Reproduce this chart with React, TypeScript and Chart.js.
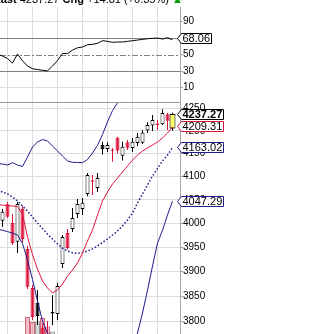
import { useEffect, useRef } from "react";
import { Chart, registerables } from "chart.js";

Chart.register(...registerables);

// Session 0 is the day before the first visible candle.
const sessions = [0, 1, 2, 3, 4, 5, 6, 7, 8, 9, 10, 11, 12, 13, 14, 15, 16, 17, 18, 19, 20, 21, 22, 23, 24, 25, 26, 27, 28, 29, 30, 31, 32, 33, 34, 35];
const weekStartSessions = [2, 7, 12, 17, 22, 27, 32];

const opens = [4030, 4006, 4041, 4001, 3962, 4030.7, 3946.9, 3866.6, 3836.8, 3787, 3772, 3815, 3814, 3915.7, 3980.1, 3988.5, 4020.2, 4030.7, 4062.7, 4092, 4075.5, 4168.8, 4160, 4156, 4184.8, 4145.4, 4175, 4162, 4173, 4174, 4201, 4212, 4216, 4214.5, 4237, 4205];
const highs = [4040, 4030.7, 4045.6, 4020, 4046, 4037, 3953, 3872.9, 3862.5, 3795, 3800, 3852, 3877, 3976, 3988.5, 4032.8, 4052, 4054, 4107.8, 4103.5, 4107.8, 4176, 4175, 4162, 4187, 4176, 4179.8, 4184, 4195, 4202, 4219, 4235, 4224, 4248, 4239.6, 4240];
const lows = [4005, 3992.7, 4011.7, 3955, 3938.5, 3960.5, 3864.5, 3802, 3792, 3752, 3745, 3792, 3802, 3907.5, 3947, 3982, 4011.7, 4018, 4058, 4060.6, 4067, 4148, 4153.5, 4132, 4150, 4135, 4157.8, 4153.5, 4166.6, 4171, 4195, 4199.7, 4202, 4213, 4202, 4200];
const closes = [4015, 4025, 4014.4, 3959.2, 4041.3, 3967.6, 3869.2, 3808, 3810, 3765, 3755, 3818, 3870.6, 3971.8, 3948.8, 4011.7, 4041.3, 4044.1, 4103.5, 4089, 4097, 4160, 4168.8, 4159, 4157, 4165, 4163, 4176, 4187, 4196.5, 4213, 4224, 4213, 4239.6, 4222.46, 4237.27];
// volume in billions of shares
const volumes = [2.3, 2.4, 2.5, 2.6, 2.8, 2.7, 4.7, 4.2, 4.25, 4.6, 3.75, 3.25, 2.9, 2.8, 2.5, 2.4, 2.3, 2.2, 2.6, 2.3, 2.4, 2.8, 2.5, 2.4, 2.5, 2.3, 2.2, 2.1, 2.3, 2.2, 2.4, 2.3, 2.0, 2.2, 2.1, 2.2];

const ema10 = [4040, 4039, 4038, 4037, 4036, 4020, 3972, 3935, 3905.5, 3881, 3866.6, 3856.4, 3862.5, 3874.7, 3891, 3903.4, 3917.8, 3938.5, 3963.4, 3986.4, 4018, 4047.8, 4067, 4084.1, 4097, 4110, 4123, 4136, 4146.9, 4155.7, 4162.3, 4168.8, 4175.4, 4184.2, 4195.2, 4209.31];
const bbUpper = [4128, 4127.3, 4125.2, 4130.2, 4125.2, 4121.9, 4142.6, 4164.4, 4175.4, 4180.9, 4177.6, 4166.6, 4155.7, 4144.7, 4133.9, 4131, 4130.7, 4130.2, 4137, 4151.3, 4168, 4192, 4220, 4245, 4262, 4275, 4288, 4300, 4311, 4309, 4302, 4291, 4284, 4281, 4279, 4278.75];
const bbMiddle = [4070, 4067, 4062.7, 4056.3, 4047.8, 4037.1, 4026.5, 4013.8, 4001, 3989.6, 3978, 3967.6, 3957.2, 3948.8, 3942.6, 3939, 3937.8, 3939.5, 3942.6, 3946.9, 3953, 3960.3, 3967.6, 3975.9, 3984.3, 3994.8, 4007.5, 4022.3, 4043.5, 4062.7, 4082, 4101.3, 4117.6, 4133.9, 4146.9, 4163.02];
const bbLower = [3988, 3986, 3983, 3980, 3976, 3958, 3924, 3884, 3840, 3800, 3775, 3769, 3759, 3753, 3751, 3747, 3745, 3749, 3748, 3742, 3738, 3729, 3715, 3707, 3707, 3715, 3730, 3752, 3776, 3816, 3862, 3911.6, 3959, 3986, 4018, 4047.29];
const rsi14 = [50.7, 48.2, 45.2, 39.7, 50.7, 42.5, 36.1, 32.8, 31.8, 30.9, 30.2, 36.1, 42.8, 51.5, 51.1, 55.5, 58.3, 59.2, 62.0, 62.5, 63.7, 66.9, 66.1, 64.9, 65.3, 65.3, 66.1, 66.9, 67.7, 68.5, 69.3, 69.8, 70.1, 68.9, 70.5, 68.06];

const priceTicks = [3800, 3850, 3900, 3950, 4000, 4050, 4100, 4150, 4200, 4250];
const rsiTicks = [10, 30, 50, 70, 90];
const rsiLevels = [30, 50, 70];

const FONT = "'Liberation Sans', Arial, Helvetica, sans-serif";
const RED = "#dc143c";
const NAVY = "#1c1c8c";
const GRID = "#dcdcdc";
const AXIS = "#a8a8a8";
const LAST = sessions.length - 1;

function dayColor(k: number) {
  return k > 0 && closes[k] < closes[k - 1] ? RED : "#000";
}

function drawTag(ctx: CanvasRenderingContext2D, y: number, text: string, border: string, bold: boolean) {
  const tipX = 177.5;
  ctx.save();
  ctx.font = `${bold ? "bold " : ""}11px ${FONT}`;
  const w = ctx.measureText(text).width;
  const top = Math.round(y - 5.5) + 0.5;
  const bot = top + 10;
  const mid = (top + bot) / 2;
  const left = tipX + 4;
  const right = Math.round(left + w + 2) + 0.5;
  ctx.beginPath();
  ctx.moveTo(tipX, mid);
  ctx.lineTo(left, top);
  ctx.lineTo(right, top);
  ctx.lineTo(right, bot);
  ctx.lineTo(left, bot);
  ctx.closePath();
  ctx.fillStyle = "#fff";
  ctx.fill();
  ctx.strokeStyle = border;
  ctx.lineWidth = 1;
  ctx.stroke();
  ctx.fillStyle = "#000";
  ctx.textBaseline = "middle";
  ctx.textAlign = "left";
  ctx.fillText(text, left + 1, mid + 0.5);
  ctx.restore();
}

function xScale() {
  return {
    type: "linear" as const,
    min: 0.5,
    max: 36.5,
    offset: false,
    afterBuildTicks: (s: any) => {
      s.ticks = weekStartSessions.map((v) => ({ value: v }));
    },
    ticks: { display: false },
    grid: { color: GRID, drawTicks: false, offset: false },
    border: { display: false },
    afterFit: (s: any) => {
      s.height = 0;
      s.paddingLeft = 0;
      s.paddingRight = 0;
    },
  };
}

export default function App() {
  const rsiRef = useRef<HTMLCanvasElement>(null);
  const priceRef = useRef<HTMLCanvasElement>(null);

  useEffect(() => {
    const charts: Chart[] = [];

    const rsiPlugin = {
      id: "rsiDecor",
      beforeDatasetsDraw(chart: any) {
        const { ctx, chartArea, scales } = chart;
        ctx.save();
        rsiLevels.forEach((lv) => {
          const y = Math.round(scales.y.getPixelForValue(lv)) + 0.5;
          ctx.beginPath();
          ctx.strokeStyle = "#808080";
          ctx.lineWidth = 1;
          ctx.setLineDash(lv === 50 ? [6, 2, 2, 2] : []);
          ctx.moveTo(chartArea.left, y);
          ctx.lineTo(chartArea.right, y);
          ctx.stroke();
        });
        ctx.restore();
      },
      afterDraw(chart: any) {
        const { ctx, chartArea, scales } = chart;
        ctx.save();
        ctx.strokeStyle = "#999";
        ctx.lineWidth = 1;
        ctx.beginPath();
        ctx.moveTo(chartArea.left, 102.5);
        ctx.lineTo(chartArea.right, 102.5);
        ctx.stroke();
        ctx.restore();
        drawTag(ctx, scales.y.getPixelForValue(rsi14[LAST]) - 1.5, rsi14[LAST].toFixed(2), "#000", false);
      },
    };

    const pricePlugin = {
      id: "priceTags",
      afterDraw(chart: any) {
        const { ctx, scales } = chart;
        drawTag(ctx, scales.y.getPixelForValue(bbLower[LAST]), bbLower[LAST].toFixed(2), NAVY, false);
        drawTag(ctx, scales.y.getPixelForValue(bbMiddle[LAST]), bbMiddle[LAST].toFixed(2), NAVY, false);
        drawTag(ctx, scales.y.getPixelForValue(ema10[LAST]), ema10[LAST].toFixed(2), RED, false);
        drawTag(ctx, scales.y.getPixelForValue(closes[LAST]), closes[LAST].toFixed(2), "#000", true);
      },
    };

    const tickFont = { family: FONT, size: 10 };

    if (rsiRef.current) {
      charts.push(
        new Chart(rsiRef.current, {
          type: "line",
          data: {
            datasets: [
              {
                data: sessions.map((k) => ({ x: k, y: rsi14[k] })),
                borderColor: "#000",
                borderWidth: 1,
                pointRadius: 0,
                tension: 0,
                clip: 0,
              } as any,
            ],
          },
          options: {
            responsive: false,
            animation: false,
            events: [],
            layout: { padding: { top: 7, left: 0, right: 0, bottom: 0 }, autoPadding: false },
            plugins: { legend: { display: false }, tooltip: { enabled: false } },
            scales: {
              x: xScale() as any,
              y: {
                type: "linear",
                position: "right",
                min: -8.9,
                max: 107.9,
                afterBuildTicks: (s: any) => {
                  s.ticks = rsiTicks.map((v) => ({ value: v }));
                },
                ticks: { font: tickFont, color: "#000", padding: 0, callback: (v: any) => String(v) },
                grid: {
                  color: (c: any) => (c.tick && (c.tick.value === 10 || c.tick.value === 90) ? GRID : "rgba(0,0,0,0)"),
                  tickColor: AXIS,
                  tickLength: 3,
                },
                border: { color: AXIS },
                afterFit: (s: any) => {
                  s.width = 147;
                  s.paddingTop = 0;
                  s.paddingBottom = 0;
                },
              } as any,
            },
          },
          plugins: [rsiPlugin],
        })
      );
    }

    if (priceRef.current) {
      const colors = sessions.map((k) => dayColor(k));
      charts.push(
        new Chart(priceRef.current, {
          type: "bar",
          data: {
            datasets: [
              {
                type: "bar",
                yAxisID: "yVol",
                data: sessions.map((k) => ({ x: k, y: volumes[k] })),
                backgroundColor: colors.map((c) => (c === RED ? "rgba(230,140,155,0.55)" : "rgba(170,170,170,0.45)")),
                borderColor: colors.map((c) => (c === RED ? "rgba(200,70,95,0.8)" : "rgba(120,120,120,0.8)")),
                borderWidth: 1,
                borderSkipped: false,
                barThickness: 5,
                grouped: false,
                inflateAmount: 0,
                clip: 0,
                order: 10,
              },
              {
                type: "bar",
                yAxisID: "y",
                data: sessions.map((k) => ({ x: k, y: [lows[k], highs[k]] })),
                backgroundColor: colors,
                borderWidth: 0,
                barThickness: 1,
                grouped: false,
                inflateAmount: 0,
                clip: 0,
                order: 8,
              },
              {
                type: "bar",
                yAxisID: "y",
                data: sessions.map((k) => ({ x: k, y: [opens[k], closes[k]] })),
                backgroundColor: sessions.map((k) =>
                  k === LAST ? "#ffff66" : closes[k] < opens[k] ? colors[k] : "#fff"
                ),
                borderColor: colors,
                borderWidth: 1,
                borderSkipped: false,
                barThickness: 4,
                grouped: false,
                inflateAmount: 0,
                clip: 0,
                order: 7,
              },
              {
                // highlight box around the latest session's body
                type: "bar",
                yAxisID: "y",
                data: [{ x: LAST, y: [opens[LAST], closes[LAST]] }],
                backgroundColor: "#ffff66",
                borderColor: "#000",
                borderWidth: 1,
                borderSkipped: false,
                barThickness: 6,
                grouped: false,
                inflateAmount: 0,
                clip: 0,
                order: 6,
              },
              {
                type: "line",
                yAxisID: "y",
                data: sessions.map((k) => ({ x: k, y: bbUpper[k] })),
                borderColor: NAVY,
                borderWidth: 1,
                pointRadius: 0,
                tension: 0,
                clip: 0,
                order: 4,
              },
              {
                type: "line",
                yAxisID: "y",
                data: sessions.map((k) => ({ x: k, y: bbLower[k] })),
                borderColor: NAVY,
                borderWidth: 1,
                pointRadius: 0,
                tension: 0,
                clip: 0,
                order: 3,
              },
              {
                type: "line",
                yAxisID: "y",
                data: sessions.map((k) => ({ x: k, y: bbMiddle[k] })),
                borderColor: NAVY,
                borderWidth: 1.5,
                borderDash: [1.5, 2],
                pointRadius: 0,
                tension: 0,
                clip: 0,
                order: 2,
              },
              {
                type: "line",
                yAxisID: "y",
                data: sessions.map((k) => ({ x: k, y: ema10[k] })),
                borderColor: RED,
                borderWidth: 1,
                pointRadius: 0,
                tension: 0,
                clip: 0,
                order: 1,
              },
            ] as any,
          },
          options: {
            responsive: false,
            animation: false,
            events: [],
            layout: { padding: 0, autoPadding: false },
            plugins: { legend: { display: false }, tooltip: { enabled: false } },
            scales: {
              x: xScale() as any,
              y: {
                type: "logarithmic",
                position: "right",
                min: 3774.1,
                max: 4262.0,
                afterBuildTicks: (s: any) => {
                  s.ticks = priceTicks.map((v) => ({ value: v }));
                },
                ticks: { font: tickFont, color: "#000", padding: 0, callback: (v: any) => String(v) },
                grid: { color: GRID, tickColor: AXIS, tickLength: 3 },
                border: { color: AXIS },
                afterFit: (s: any) => {
                  s.width = 147;
                  s.paddingTop = 0;
                  s.paddingBottom = 0;
                },
              } as any,
              yVol: {
                type: "linear",
                display: false,
                min: 3,
                max: 26,
              } as any,
            },
          },
          plugins: [pricePlugin],
        })
      );
    }

    return () => charts.forEach((c) => c.destroy());
  }, []);

  const last = closes[LAST];
  const chg = closes[LAST] - closes[LAST - 1];
  const pct = (chg / closes[LAST - 1]) * 100;

  return (
    <div style={{ position: "fixed", left: 0, top: 0, width: 327, height: 334, overflow: "hidden", background: "#fff" }}>
      <canvas ref={rsiRef} width={327} height={103} style={{ position: "absolute", left: 0, top: 0 }} />
      <canvas ref={priceRef} width={327} height={231} style={{ position: "absolute", left: 0, top: 103 }} />
      <div
        style={{
          position: "absolute",
          left: -6,
          top: -5.8,
          fontFamily: FONT,
          fontSize: 11,
          lineHeight: "11px",
          whiteSpace: "nowrap",
          color: "#000",
        }}
      >
        <b>Last</b> {last.toFixed(2)} <b>Chg</b> +{chg.toFixed(2)} (+{pct.toFixed(2)}%){" "}
        <span style={{ color: "#00a000" }}>▲</span>
      </div>
    </div>
  );
}
